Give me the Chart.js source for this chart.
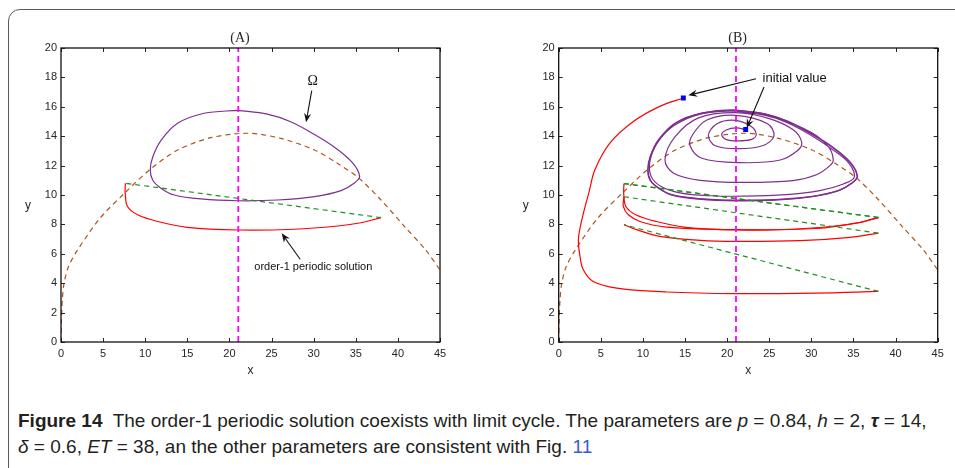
<!DOCTYPE html>
<html>
<head>
<meta charset="utf-8">
<script src="https://cdn.jsdelivr.net/npm/chart.js@4.4.1/dist/chart.umd.min.js"></script>
<style>
  body { margin: 0; background: #fff; width: 955px; height: 468px; overflow: hidden; position: relative; }
  #frame { position: absolute; left: 8px; top: 9px; width: 1000px; height: 1000px; border: 1.5px solid #5a5a5a; border-radius: 12px; box-sizing: border-box; }
  #ca { position: absolute; left: 0; top: 0; }
  #cb { position: absolute; left: 480px; top: 0; }
  #cap { position: absolute; left: 18px; top: 408px; font-family: "Liberation Sans", Arial, sans-serif; font-size: 19px; line-height: 26px; color: #231f20; white-space: nowrap; }
  #cap .ref { color: #3b5bc8; }
</style>
</head>
<body>
<div id="frame"></div>
<canvas id="ca" width="480" height="390"></canvas>
<canvas id="cb" width="475" height="390"></canvas>
<div id="cap"><b>Figure 14</b>&nbsp; The order-1 periodic solution coexists with limit cycle. The parameters are <i>p</i> = 0.84, <i>h</i> = 2, <b><i>τ</i></b> = 14,<br><i>δ</i> = 0.6, <i>ET</i> = 38, an the other parameters are consistent with Fig. <span class="ref">11</span></div>
<script>
// axis ticks
const xTicks = [0, 5, 10, 15, 20, 25, 30, 35, 40, 45];
const yTicks = [0, 2, 4, 6, 8, 10, 12, 14, 16, 18, 20];

// prey isocline (brown dashed)
const isocline = [[0,0],[0.05,1.5],[0.16,2.9],[0.36,4.0],[0.87,5.1],[1.9,6.2],[4.6,8.4],[7.5,10.1],[10.7,11.8],
  [13.85,13.06],[17.8,13.9],[22.2,14.2],[26.1,13.85],[30.1,13.06],[32.85,12.15],[35.4,11.13],[38.0,9.66],
  [40.8,7.85],[43.3,6.26],[45,4.9]];

// threshold line (magenta dashed)
const threshold = [[21.05,0],[21.05,20]];

// limit cycle Omega (purple)
const cycle = [[21.0,15.76],[17.0,15.56],[13.85,14.88],[11.9,13.74],[10.9,12.6],[10.6,11.7],[10.9,11.0],[11.9,10.45],
  [13.45,10.0],[16.6,9.73],[21.0,9.61],[25.7,9.66],[30.1,9.89],[33.25,10.3],[34.8,10.8],[35.46,11.27],[34.6,12.2],
  [32.6,13.2],[30.0,14.15],[27.2,15.0],[24.5,15.5],[21.0,15.76]];

// panel A: order-1 periodic solution (red) and its jump (green)
const periodicA = [[7.64,10.8],[7.62,10.14],[7.9,9.22],[9.1,8.66],[11.5,8.2],[15.0,7.8],[21.0,7.62],[27.7,7.67],
  [32.85,7.89],[35.6,8.11],[38.0,8.46]];
const jumpA = [[38.0,8.46],[7.64,10.8]];

// panel B: trajectory from the left initial value (red segments, green jumps)
const redB1 = [[14.8,16.6],[12.0,16.03],[8.86,15.0],[6.1,13.54],[4.3,11.72],[3.6,10.2],[2.95,8.8],[2.45,7.5],[2.33,6.84],
  [2.53,5.82],[2.92,4.92],[4.1,4.12],[6.9,3.67],[12.8,3.4],[21.05,3.29],[30.6,3.33],[37.95,3.44]];
const jumpB1 = [[37.95,3.44],[7.75,7.98]];
const redB2 = [[7.75,7.98],[9.26,7.64],[12.0,7.18],[16.8,6.91],[21.05,6.84],[28.6,6.89],[34.6,7.12],[37.95,7.41]];
const jumpB2 = [[37.95,7.41],[7.75,9.88]];
const redB3 = [[7.75,9.88],[7.67,9.22],[8.27,8.66],[9.65,8.2],[12.8,7.82],[21.05,7.64],[30.6,7.72],[35.8,8.14],[37.95,8.48]];
const jumpB3 = [[37.95,8.48],[7.75,10.78]];
const redB4 = [[7.75,10.78],[7.72,10.12],[7.98,9.22],[9.15,8.66],[11.6,8.2],[15.1,7.8],[21.05,7.62],[27.7,7.67],
  [32.85,7.89],[35.6,8.11],[38.0,8.46]];
const jumpB4 = [[38.0,8.46],[7.75,10.78]];

// panel B: spiral from the inner initial value out to the limit cycle (purple)
const spiralB = [[22.2,14.45],[21.1,14.56],[19.9,14.42],[19.35,14.1],[19.9,13.77],[21.3,13.68],[22.9,13.78],[23.45,14.1],[22.9,14.65],
  [21.0,15.08],[18.8,14.85],[17.77,14.05],[18.6,13.35],[21.3,13.15],[24.2,13.35],[25.56,14.0],[24.8,14.85],
  [21.0,15.42],[17.6,15.1],[15.9,14.1],[15.6,13.35],[17.0,12.5],[21.5,12.2],[26.3,12.38],[28.4,13.05],[28.85,13.6],[27.8,14.45],[25.0,15.2],
  [21.0,15.6],[16.6,15.25],[13.8,13.95],[12.62,12.4],[13.6,11.5],[16.8,11.0],[22.0,10.86],[27.8,10.98],[30.6,11.38],[32.2,12.0],
  [32.6,12.4],[32.0,13.3],[30.0,14.25],[26.0,15.2],
  [21.0,15.7],[16.9,15.52],[13.7,14.72],[11.7,13.55],[10.85,12.35],[10.95,11.3],[12.1,10.6],[14.4,10.15],[18.0,9.95],
  [22.0,9.92],[27.0,10.03],[31.0,10.3],[33.8,10.75],[35.1,11.22],[34.4,12.2],[32.5,13.1],[30.0,14.05],[27.2,14.9],[24.5,15.45],
  [21.0,15.78],[17.0,15.58],[13.85,14.9],[11.85,13.76],[10.85,12.6],[10.58,11.7],[10.85,11.0],[11.85,10.48],[13.4,10.03],
  [16.6,9.76],[21.0,9.65],[25.7,9.69],[30.1,9.91],[33.25,10.31],[34.8,10.81],[35.45,11.27],[34.65,12.22],[32.65,13.22],
  [30.05,14.17],[27.2,15.02],[24.5,15.52],[21.0,15.78]];

// initial values (blue squares)
const initialB = [[14.8,16.6],[22.2,14.45]];

const pts = arr => arr.map(([x, y]) => ({ x, y }));

const PURPLE = '#7e2f8e', RED = '#ff0000', GREEN = '#1f8f1f', BROWN = '#b0541c', MAGENTA = '#ff00ff';

function line(data, color, extra) {
  return Object.assign({ data: pts(data), showLine: true, borderColor: color, borderWidth: 1.2,
    pointRadius: 0, fill: false, tension: 0.35, order: 2 }, extra || {});
}
const dashed = (data, color, extra) => line(data, color, Object.assign({ borderDash: [5, 4], tension: 0, order: 1 }, extra || {}));

function arrow(ctx, x1, y1, x2, y2) {
  const a = Math.atan2(y2 - y1, x2 - x1), c = Math.cos(a), s = Math.sin(a);
  const L = 9, W = 3.6, N = 6;
  ctx.beginPath(); ctx.moveTo(x1, y1); ctx.lineTo(x2 - N * c, y2 - N * s); ctx.stroke();
  ctx.beginPath();
  ctx.moveTo(x2, y2);
  ctx.lineTo(x2 - L * c + W * s, y2 - L * s - W * c);
  ctx.lineTo(x2 - N * c, y2 - N * s);
  ctx.lineTo(x2 - L * c - W * s, y2 - L * s + W * c);
  ctx.closePath(); ctx.fill();
}

// box, inward ticks, titles and annotations
const decor = {
  id: 'decor',
  afterDatasetsDraw(chart, args, opts) {
    const { ctx, chartArea: a, scales: { x, y } } = chart;
    ctx.save();
    ctx.strokeStyle = '#262626';
    ctx.lineWidth = 1;
    ctx.beginPath();
    xTicks.forEach(v => {
      const px = Math.round(x.getPixelForValue(v)) + 0.5;
      ctx.moveTo(px, a.bottom); ctx.lineTo(px, a.bottom - 4);
      ctx.moveTo(px, a.top); ctx.lineTo(px, a.top + 4);
    });
    yTicks.forEach(v => {
      const py = Math.round(y.getPixelForValue(v)) + 0.5;
      ctx.moveTo(a.left, py); ctx.lineTo(a.left + 4, py);
      ctx.moveTo(a.right, py); ctx.lineTo(a.right - 4, py);
    });
    ctx.stroke();
    ctx.lineWidth = 1.3;
    ctx.strokeStyle = '#111';
    ctx.strokeRect(a.left, a.top, a.right - a.left, a.bottom - a.top);

    const cx = (a.left + a.right) / 2;
    ctx.fillStyle = '#262626';
    ctx.font = '14px "Liberation Serif", serif';
    ctx.textAlign = 'center'; ctx.textBaseline = 'middle';
    ctx.fillText(opts.title, cx - 10.5, 38);
    ctx.font = '12px "Liberation Sans", sans-serif';
    ctx.fillText('x', cx, 371);
    ctx.fillText('y', a.left - 33, 206);

    ctx.fillStyle = '#111';
    ctx.strokeStyle = '#111';
    ctx.lineWidth = 1.1;
    (opts.notes || []).forEach(n => {
      ctx.font = n.font;
      ctx.textAlign = n.align || 'center';
      ctx.fillText(n.text, x.getPixelForValue(n.x), y.getPixelForValue(n.y));
    });
    (opts.arrows || []).forEach(([x1, y1, x2, y2]) => {
      arrow(ctx, x.getPixelForValue(x1), y.getPixelForValue(y1), x.getPixelForValue(x2), y.getPixelForValue(y2));
    });
    ctx.restore();
  }
};

function makePanel(id, datasets, yAxisWidth, rightPad, decorOpts) {
  const tickFont = { family: '"Liberation Sans", Arial, sans-serif', size: 11 };
  return new Chart(document.getElementById(id), {
    type: 'scatter',
    data: { datasets },
    options: {
      responsive: false,
      animation: false,
      devicePixelRatio: 1,
      layout: { padding: { left: 0, right: rightPad, top: 48, bottom: 0 } },
      plugins: { legend: { display: false }, tooltip: { enabled: false }, decor: decorOpts },
      scales: {
        x: {
          type: 'linear', min: 0, max: 45,
          grid: { display: false, drawTicks: false }, border: { display: false },
          afterBuildTicks: s => { s.ticks = xTicks.map(v => ({ value: v })); },
          ticks: { font: tickFont, color: '#262626', padding: 5, maxRotation: 0, autoSkip: false },
          afterFit: s => { s.height = 48; }
        },
        y: {
          type: 'linear', min: 0, max: 20,
          grid: { display: false, drawTicks: false }, border: { display: false },
          afterBuildTicks: s => { s.ticks = yTicks.map(v => ({ value: v })); },
          ticks: { font: tickFont, color: '#262626', padding: 4, autoSkip: false },
          afterFit: s => { s.width = yAxisWidth; }
        }
      }
    },
    plugins: [decor]
  });
}

makePanel('ca', [
  line(threshold, MAGENTA, { borderDash: [6, 4], borderWidth: 1.8, tension: 0, order: 0 }),
  dashed(jumpA, GREEN),
  line(periodicA, RED),
  line(cycle, PURPLE),
  dashed(isocline, BROWN, { tension: 0.3, order: 3 })
], 61, 40, {
  title: '(A)',
  notes: [
    { text: 'Ω', x: 29.9, y: 17.75, font: '14px "Liberation Serif", serif' },
    { text: 'order-1 periodic solution', x: 29.96, y: 5.12, font: '11px "Liberation Sans", sans-serif' }
  ],
  arrows: [[29.77, 17.1, 29.1, 14.95], [28.4, 5.63, 26.2, 7.39]]
});

makePanel('cb', [
  line(threshold, MAGENTA, { borderDash: [6, 4], borderWidth: 1.8, tension: 0, order: 0 }),
  { data: pts(initialB), showLine: false, pointStyle: 'rect', pointRadius: 3.5, backgroundColor: '#0000ff', borderColor: '#0000ff', borderWidth: 0, order: -1 },
  dashed(jumpB1, GREEN), dashed(jumpB2, GREEN), dashed(jumpB3, GREEN), dashed(jumpB4, GREEN),
  line(redB1, RED), line(redB2, RED), line(redB3, RED), line(redB4, RED),
  line(spiralB, PURPLE),
  line(cycle, PURPLE, { borderWidth: 1.4 }),
  dashed(isocline, BROWN, { tension: 0.3, order: 3 })
], 78.7, 17.3, {
  title: '(B)',
  notes: [
    { text: 'initial value', x: 24.2, y: 17.96, font: '13px "Liberation Sans", sans-serif', align: 'left' }
  ],
  arrows: [[23.43, 17.91, 15.39, 16.78], [24.38, 17.35, 22.32, 14.56]]
});
</script>
</body>
</html>
